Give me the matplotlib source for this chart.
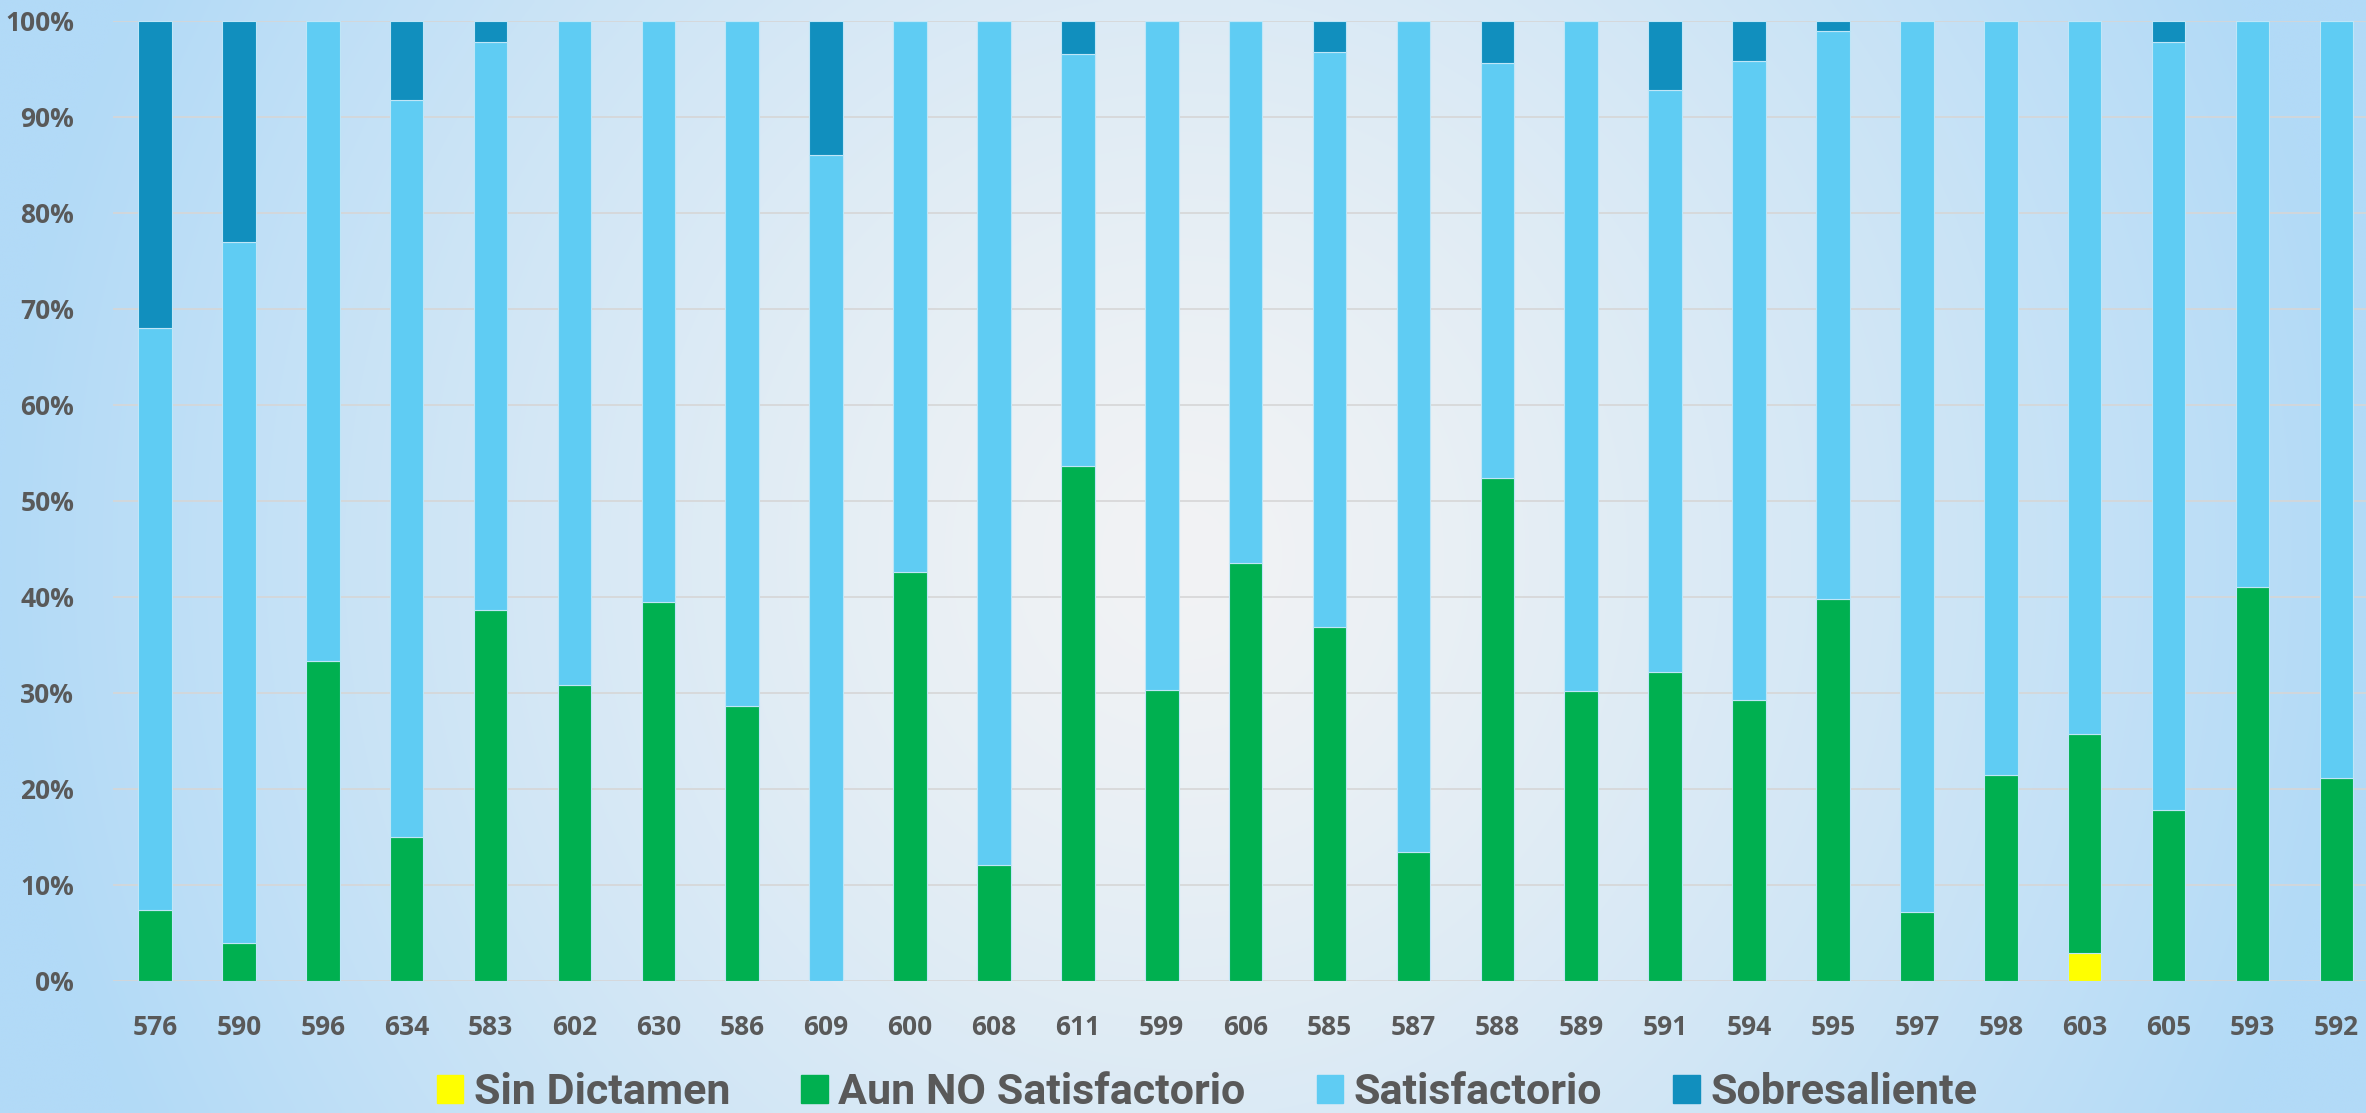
import numpy as np
import matplotlib
matplotlib.use("Agg")
import matplotlib.pyplot as plt
import matplotlib.patches as mpatches

# datos (porcentaje por escuela)
escuelas = ["576", "590", "596", "634", "583", "602", "630", "586", "609", "600",
            "608", "611", "599", "606", "585", "587", "588", "589", "591", "594",
            "595", "597", "598", "603", "605", "593", "592"]
sin_dictamen = [0, 0, 0, 0, 0, 0, 0, 0, 0, 0, 0, 0, 0, 0, 0, 0, 0, 0, 0, 0,
                0, 0, 0, 2.9, 0, 0, 0]
aun_no = [7.4, 3.9, 33.3, 15.0, 38.6, 30.8, 39.5, 28.6, 0.0, 42.6,
          12.1, 53.6, 30.3, 43.5, 36.8, 13.4, 52.4, 30.2, 32.2, 29.2,
          39.8, 7.2, 21.4, 22.8, 17.8, 41.0, 21.1]
sobresaliente = [32.0, 23.0, 0, 8.3, 2.2, 0, 0, 0, 14.0, 0,
                 0, 3.5, 0, 0, 3.3, 0, 4.4, 0, 7.2, 4.2,
                 1.1, 0, 0, 0, 2.2, 0, 0]
satisfactorio = [100 - a - b - c for a, b, c in zip(sin_dictamen, aun_no, sobresaliente)]

COL_SIN = "#FFFF00"
COL_AUN = "#00B050"
COL_SAT = "#5FCCF3"
COL_SOB = "#118FBE"
TXT = "#595959"

W, H, DPI = 2366, 1113, 100
fig = plt.figure(figsize=(W / DPI, H / DPI), dpi=DPI)

# fondo degradado radial
bg = fig.add_axes([0, 0, 1, 1], zorder=0)
xx, yy = np.meshgrid(np.linspace(-1, 1, 600), np.linspace(-1, 1, 300))
r = np.clip(np.sqrt(xx**2 + (0.45 * yy)**2), 0, 1) ** 1.3
c0 = np.array([0xf2, 0xf3, 0xf4]) / 255
c1 = np.array([0xb2, 0xda, 0xf7]) / 255
img = c0[None, None, :] + (c1 - c0)[None, None, :] * r[..., None]
bg.imshow(img, aspect="auto", extent=[0, 1, 0, 1], interpolation="bilinear")
bg.axis("off")

ax = fig.add_axes([113 / W, (H - 980.7) / H, 27 * 83.9 / W, 960 / H], zorder=1)
ax.patch.set_alpha(0)

x = np.arange(len(escuelas))
bw = 0.4
ekw = dict(edgecolor="#bfe6f7", linewidth=0.8, zorder=3)
b0 = np.zeros(len(escuelas))
ax.bar(x, sin_dictamen, bw, bottom=b0, color=COL_SIN, **ekw)
b1 = b0 + np.array(sin_dictamen)
ax.bar(x, aun_no, bw, bottom=b1, color=COL_AUN, **ekw)
b2 = b1 + np.array(aun_no)
ax.bar(x, satisfactorio, bw, bottom=b2, color=COL_SAT, **ekw)
b3 = b2 + np.array(satisfactorio)
ax.bar(x, sobresaliente, bw, bottom=b3, color=COL_SOB, **ekw)

ax.set_xlim(-0.5, len(escuelas) - 0.5)
ax.set_ylim(0, 100)
ax.set_yticks(np.arange(0, 101, 10))
ax.set_yticklabels([f"{v}%" for v in range(0, 101, 10)])
ax.set_xticks(x)
ax.set_xticklabels(escuelas)
ax.yaxis.grid(True, color="#d6d6d6", linewidth=1.2, zorder=0)
ax.set_axisbelow(True)
for s in ax.spines.values():
    s.set_visible(False)
ax.tick_params(length=0)
ax.tick_params(axis="x", pad=24)
ax.tick_params(axis="y", pad=28)
for lab in ax.get_xticklabels() + ax.get_yticklabels():
    lab.set_fontfamily(["Open Sans", "DejaVu Sans"])
    lab.set_fontweight("bold")
    lab.set_fontsize(19)
    lab.set_color(TXT)

handles = [
    mpatches.Patch(color=COL_SIN, label="Sin Dictamen"),
    mpatches.Patch(color=COL_AUN, label="Aun NO Satisfactorio"),
    mpatches.Patch(color=COL_SAT, label="Satisfactorio"),
    mpatches.Patch(color=COL_SOB, label="Sobresaliente"),
]
leg = fig.legend(handles=handles, loc="center", bbox_to_anchor=(1207 / W, 1 - 1093 / H),
                 ncol=4, frameon=False, handlelength=0.62, handleheight=0.62,
                 handletextpad=0.24, columnspacing=1.65,
                 prop={"family": ["Roboto", "DejaVu Sans"],
                       "weight": "bold", "size": 31})
for t in leg.get_texts():
    t.set_color(TXT)

fig.savefig("out.png", dpi=DPI)
